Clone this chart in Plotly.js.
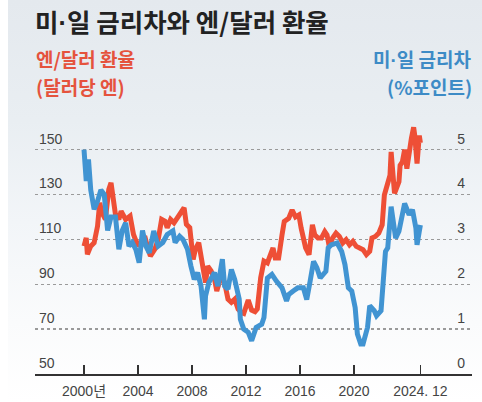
<!DOCTYPE html>
<html>
<head>
<meta charset="utf-8">
<script src="https://cdn.plot.ly/plotly-3.0.1.min.js"></script>
<style>
  html, body { margin: 0; padding: 0; background: #ffffff; }
  #wrap { position: relative; width: 482px; height: 402px; overflow: hidden; background: #ffffff; }
  #bg { position: absolute; left: 8px; top: 0; width: 474px; height: 402px;
        background: linear-gradient(to bottom, #e4e9ee 0%, #e9eef2 30%, #f2f5f8 55%, #fafbfc 80%, #ffffff 100%); }
  #chart { position: absolute; left: 0; top: 0; width: 482px; height: 402px; }
</style>
</head>
<body>
<div id="wrap"><div id="bg"></div><div id="chart"></div></div>
<script>
// ---- Data ----
const spreadDates = ['2000-01','2000-03','2000-05','2000-07','2000-10','2001-01','2001-04','2001-07','2001-10','2002-01','2002-05','2002-08','2002-11','2003-02','2003-05','2003-08','2003-11','2004-02','2004-05','2004-08','2004-11','2005-03','2005-07','2005-11','2006-03','2006-08','2006-10','2007-02','2007-05','2007-09','2007-12','2008-03','2008-06','2008-09','2008-12','2009-01','2009-04','2009-09','2009-12','2010-04','2010-06','2010-09','2010-12','2011-03','2011-07','2011-08','2011-11','2012-03','2012-06','2012-10','2013-03','2013-05','2013-08','2013-12','2014-04','2014-09','2015-01','2015-03','2015-07','2015-11','2016-04','2016-07','2016-10','2017-01','2017-04','2017-07','2017-12','2018-02','2018-05','2018-10','2019-02','2019-05','2019-08','2019-11','2020-02','2020-04','2020-07','2020-09','2021-01','2021-03','2021-07','2021-09','2022-01','2022-03','2022-05','2022-07','2022-10','2022-11','2023-02','2023-05','2023-08','2023-10','2024-02','2024-05','2024-08','2024-09','2024-11','2024-12'];
const spreadVals = [5.0,4.3,4.78,4.1,3.67,3.85,4.1,4.0,3.2,3.5,3.5,2.78,3.2,3.37,2.85,2.93,2.78,2.48,3.2,2.85,2.7,3.19,2.85,2.93,3.11,3.19,2.93,3.07,3.0,2.78,2.41,2.11,2.26,1.96,1.22,1.74,2.04,2.26,1.96,2.56,1.96,1.89,2.33,2.11,1.67,1.22,1.0,0.93,0.74,1.04,1.11,1.26,2.14,2.22,2.07,1.92,1.63,1.77,1.85,1.92,1.92,1.66,2.07,2.51,2.37,2.14,2.29,2.81,2.88,2.92,2.73,2.44,1.92,1.85,1.48,0.89,0.67,0.67,1.04,1.52,1.41,1.3,1.41,2.07,2.73,2.81,3.73,3.55,3.03,3.18,3.55,3.8,3.55,3.66,3.25,2.88,3.18,3.32];

const yenDates = ['2000-01','2000-03','2000-04','2000-07','2000-10','2001-01','2001-03','2001-05','2001-08','2001-11','2002-01','2002-03','2002-05','2002-08','2002-10','2003-02','2003-06','2003-09','2004-01','2004-03','2004-07','2004-10','2004-12','2005-04','2005-07','2005-10','2006-01','2006-03','2006-06','2006-09','2007-01','2007-03','2007-06','2007-08','2007-11','2008-02','2008-04','2008-07','2008-10','2009-01','2009-03','2009-06','2009-09','2009-11','2010-03','2010-06','2010-09','2010-12','2011-03','2011-06','2011-09','2011-11','2012-03','2012-06','2012-09','2012-11','2013-02','2013-05','2013-08','2013-11','2014-01','2014-03','2014-06','2014-09','2014-11','2015-03','2015-06','2015-09','2015-12','2016-02','2016-06','2016-09','2016-12','2017-02','2017-05','2017-08','2017-11','2018-01','2018-03','2018-06','2018-09','2018-12','2019-03','2019-06','2019-09','2019-12','2020-03','2020-06','2020-09','2020-12','2021-03','2021-05','2021-08','2021-11','2022-02','2022-04','2022-06','2022-09','2022-10','2022-11','2023-01','2023-05','2023-06','2023-08','2023-10','2023-12','2024-02','2024-04','2024-06','2024-07','2024-09','2024-11','2024-12'];
const yenVals = [107,110.7,103.3,107,108.5,115.9,126.3,121.9,118.9,132.2,135.2,129.3,121.1,118.9,122.6,118.9,120.4,112.2,107,108.5,111.5,105.6,102.6,105.6,110,118.9,118.1,115.2,118.9,117.4,120.4,121.9,124.1,116.7,115.2,101.1,105.6,108.5,99.6,90.7,98.1,95.9,92.2,87,93.7,90.7,83.3,81.9,83.3,78.9,77.4,77,83,78.5,77.8,79,92.9,100.3,99.5,104.7,106.2,101.7,101.7,112,118,119.4,123.1,120,120.9,115,106.2,103.2,116.5,112.1,110.6,110.6,113.5,112,106.9,110.6,112.8,111.3,108.4,109.9,107.6,109.1,106.9,106.2,105.4,103.2,104.7,110.6,111.3,112.8,116.5,129.8,134.2,138.6,149,140,130.5,135.7,143,144.5,150,141.5,150.4,155,160,156.3,143.8,156.3,153];

const xTickVals = ['2000-01-01','2004-01-01','2008-01-01','2012-01-01','2016-01-01','2020-01-01','2024-12-01'];
const xTickText = ['2000년','2004','2008','2012','2016','2020','2024. 12'];
const yenTicks = [50,70,90,110,130,150];
const spreadTicks = [0,1,2,3,4,5];

const DOT = '<span style="font-family:Liberation Sans">·</span>';
const chartTitle = '미' + DOT + '일 금리차와 엔/달러 환율';
const yenLabel = ['엔/달러 환율','(달러당 엔)'];
const spreadLabel = ['미' + DOT + '일 금리차','(%포인트)'];

// ---- Layout ----
const W = 482, H = 402;
const M = {l: 35, r: 10, t: 116, b: 28};
const plotW = W - M.l - M.r, plotH = H - M.t - M.b;
const px = x => (x - M.l) / plotW;
const py = y => (H - M.b - y) / plotH;

const RED = '#ee4f36', BLUE = '#4194d2';
const tickFont = {family: 'Liberation Sans, Noto Sans CJK KR, sans-serif', size: 14, color: '#444'};
const subFont = (c) => ({family: 'Noto Sans CJK KR, sans-serif', size: 19, color: c, weight: 700});

const traces = [
  {x: spreadDates, y: spreadVals, yaxis: 'y2', type: 'scatter', mode: 'lines',
   line: {color: BLUE, width: 5}, hoverinfo: 'skip', showlegend: false},
  {x: yenDates, y: yenVals, yaxis: 'y', type: 'scatter', mode: 'lines',
   line: {color: RED, width: 5}, hoverinfo: 'skip', showlegend: false}
];

function sub(text, x, y, anchor, color) {
  return {text: text, xref: 'paper', yref: 'paper', x: px(x), y: py(y), xanchor: anchor,
          yanchor: 'middle', showarrow: false, borderpad: 0, font: subFont(color)};
}

const layout = {
  width: W, height: H,
  margin: {l: M.l, r: M.r, t: M.t, b: M.b, pad: 0},
  paper_bgcolor: 'rgba(0,0,0,0)', plot_bgcolor: 'rgba(0,0,0,0)',
  showlegend: false,
  title: {text: chartTitle, xref: 'container', yref: 'container', x: 35 / W, xanchor: 'left',
          y: 1 - 23 / H, yanchor: 'middle',
          font: {family: 'Noto Sans CJK KR, sans-serif', size: 25.5, color: '#222', weight: 700}},
  xaxis: {type: 'date', range: ['1996-05-15', '2028-09-27'], tickmode: 'array',
          tickvals: xTickVals, ticktext: xTickText, ticks: 'inside', ticklen: 9, tickwidth: 1.3,
          tickcolor: '#333', showline: true, linecolor: '#333', linewidth: 1.5,
          showgrid: false, zeroline: false, tickfont: tickFont, ticklabelstandoff: 4},
  yaxis: {range: [50, 165], tickmode: 'array', tickvals: yenTicks, showgrid: true,
          gridcolor: '#9a9a9a', griddash: 'dot', gridwidth: 1.3, zeroline: false, showline: false,
          ticks: '', ticklabelposition: 'inside', ticklabelshift: -11, ticklabelstandoff: 1,
          tickfont: tickFont},
  yaxis2: {range: [0, 5.75], overlaying: 'y', side: 'right', tickmode: 'array', tickvals: spreadTicks,
           showgrid: false, zeroline: false, showline: false, ticks: '',
           ticklabelposition: 'inside', ticklabelshift: -11, ticklabelstandoff: 4, tickfont: tickFont},
  annotations: [
    sub(yenLabel[0], 35, 58, 'left', '#e5533d'),
    sub(yenLabel[1], 35, 86, 'left', '#e5533d'),
    sub(spreadLabel[0], 473, 58, 'right', '#3d8bc6'),
    sub(spreadLabel[1], 473, 86, 'right', '#3d8bc6')
  ]
};

Plotly.newPlot('chart', traces, layout, {staticPlot: true, displayModeBar: false});
</script>
</body>
</html>
